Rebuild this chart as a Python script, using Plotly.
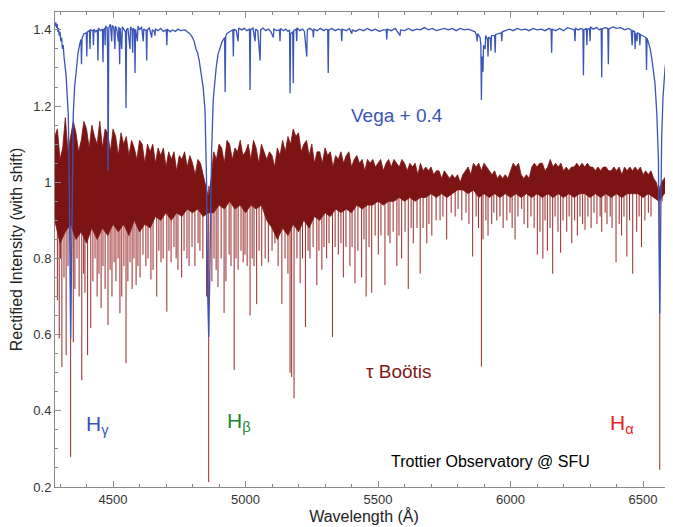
import plotly.graph_objects as go

# ---------------- data ----------------
# tau Bootis: dense band (upper / lower envelope of the blended metal lines)
tau_upper_wl = list(range(4280, 6620, 10))
tau_upper = [
    1.12, 1.14, 1.06, 1.09, 1.17, 1.08, 1.12, 1.16, 1.13, 1.08,
    1.11, 1.16, 1.14, 1.09, 1.15, 1.12, 1.10, 1.16, 1.09, 1.14,
    1.13, 1.08, 1.14, 1.12, 1.07, 1.13, 1.10, 1.12, 1.07, 1.11,
    1.09, 1.06, 1.11, 1.10, 1.05, 1.10, 1.08, 1.10, 1.05, 1.09,
    1.07, 1.09, 1.04, 1.08, 1.06, 1.08, 1.03, 1.07, 1.06, 1.08,
    1.04, 1.07, 1.05, 1.02, 1.06, 1.05, 1.02, 0.99, 0.96, 1.01,
    1.08, 1.06, 1.10, 1.09, 1.05, 1.11, 1.10, 1.06, 1.09, 1.08,
    1.11, 1.07, 1.08, 1.10, 1.06, 1.11, 1.09, 1.05, 1.10, 1.08,
    1.06, 1.08, 1.07, 1.04, 1.09, 1.07, 1.11, 1.08, 1.12, 1.10,
    1.14, 1.12, 1.13, 1.08, 1.10, 1.11, 1.07, 1.10, 1.05, 1.08,
    1.08, 1.05, 1.09, 1.07, 1.08, 1.04, 1.07, 1.06, 1.08, 1.05,
    1.07, 1.08, 1.04, 1.06, 1.07, 1.05, 1.06, 1.03, 1.06, 1.05,
    1.06, 1.04, 1.05, 1.06, 1.03, 1.05, 1.06, 1.04, 1.06, 1.05,
    1.04, 1.06, 1.05, 1.03, 1.05, 1.04, 1.05, 1.02, 1.05, 1.03,
    1.04, 1.03, 1.04, 1.02, 1.03, 1.03, 1.01, 1.03, 1.02, 1.01,
    1.02, 1.01, 1.02, 1.00, 1.02, 1.03, 1.04, 1.02, 1.05, 1.04,
    1.05, 1.03, 1.05, 1.04, 1.03, 1.02, 1.03, 1.01, 1.02, 1.01,
    1.02, 1.01, 1.03, 1.05, 1.04, 1.05, 1.02, 1.01, 1.02, 1.01,
    1.04, 1.05, 1.04, 1.05, 1.05, 1.03, 1.04, 1.06, 1.04, 1.05,
    1.04, 1.05, 1.03, 1.04, 1.03, 1.04, 1.04, 1.05, 1.04, 1.05,
    1.04, 1.05, 1.04, 1.04, 1.03, 1.04, 1.03, 1.04, 1.04, 1.03,
    1.03, 1.04, 1.03, 1.04, 1.02, 1.04, 1.03, 1.04, 1.03, 1.04,
    1.03, 1.04, 1.02, 1.03, 1.02, 1.03, 1.01, 1.00, 0.97, 1.00,
    1.01, 1.02, 1.00, 1.01,
]
tau_lower_wl = list(range(4280, 6601, 20))
tau_lower = [
    0.90, 0.84, 0.87, 0.89, 0.85, 0.87, 0.84, 0.88, 0.85, 0.88,
    0.86, 0.89, 0.87, 0.89, 0.86, 0.90, 0.87, 0.89, 0.88, 0.91,
    0.90, 0.92, 0.90, 0.92, 0.91, 0.93, 0.92, 0.93, 0.91, 0.92,
    0.92, 0.94, 0.93, 0.95, 0.93, 0.94, 0.92, 0.94, 0.93, 0.94,
    0.90, 0.88, 0.85, 0.88, 0.86, 0.89, 0.87, 0.90, 0.88, 0.91,
    0.90, 0.92, 0.91, 0.93, 0.92, 0.93, 0.92, 0.94, 0.93, 0.94,
    0.94, 0.95, 0.94, 0.95, 0.95, 0.96, 0.95, 0.96, 0.95, 0.96,
    0.96, 0.97, 0.96, 0.97, 0.96, 0.97, 0.98, 0.98, 0.97, 0.98,
    0.96, 0.97, 0.96, 0.97, 0.96, 0.97, 0.96, 0.97, 0.96, 0.97,
    0.96, 0.97, 0.96, 0.97, 0.96, 0.97, 0.96, 0.97, 0.96, 0.97,
    0.97, 0.96, 0.97, 0.96, 0.97, 0.96, 0.97, 0.96, 0.97, 0.97,
    0.97, 0.96, 0.97, 0.96, 0.95, 0.97, 0.97,
]
# tau Bootis: individual deep absorption lines (wavelength, minimum)
tau_line_wl = [
    4290, 4297, 4302, 4307, 4315, 4323, 4330, 4340, 4350, 4356,
    4364, 4372, 4382, 4389, 4394, 4404, 4416, 4424, 4432, 4440,
    4447, 4455, 4462, 4470, 4481, 4489, 4496, 4504, 4511, 4519,
    4526, 4533, 4541, 4549, 4556, 4564, 4572, 4579, 4587, 4594,
    4602, 4613, 4624, 4632, 4643, 4651, 4665, 4673, 4681, 4689,
    4703, 4711, 4719, 4730, 4738, 4745, 4759, 4768, 4779, 4787,
    4798, 4809, 4821, 4828, 4839, 4853, 4861, 4873, 4881, 4889,
    4896, 4908, 4919, 4926, 4938, 4945, 4957, 4964, 4972, 4983,
    4991, 4998, 5006, 5017, 5025, 5032, 5042, 5051, 5061, 5074,
    5086, 5100, 5111, 5123, 5137, 5149, 5160, 5168, 5174, 5183,
    5194, 5206, 5215, 5226, 5236, 5243, 5255, 5269, 5277, 5288,
    5296, 5306, 5315, 5328, 5338, 5350, 5360, 5369, 5379, 5394,
    5402, 5413, 5424, 5438, 5447, 5455, 5466, 5476, 5489, 5501,
    5511, 5526, 5538, 5545, 5557, 5571, 5579, 5589, 5602, 5614,
    5625, 5633, 5647, 5659, 5670, 5684, 5692, 5703, 5719, 5734,
    5745, 5759, 5776, 5791, 5802, 5816, 5832, 5843, 5857, 5870,
    5879, 5890, 5896, 5907, 5915, 5929, 5937, 5948, 5960, 5972,
    5986, 5998, 6006, 6017, 6028, 6042, 6051, 6065, 6077, 6089,
    6101, 6111, 6122, 6130, 6139, 6149, 6159, 6168, 6179, 6189,
    6198, 6212, 6221, 6231, 6242, 6252, 6262, 6272, 6281, 6292,
    6304, 6315, 6326, 6338, 6344, 6357, 6364, 6376, 6383, 6398,
    6410, 6419, 6428, 6439, 6449, 6461, 6476, 6485, 6494, 6507,
    6520, 6530, 6563, 6572, 6589, 6602,
]
tau_line_min = [
    0.69, 0.59, 0.80, 0.515, 0.75, 0.546, 0.78, 0.279, 0.58, 0.72,
    0.80, 0.70, 0.48, 0.76, 0.71, 0.546, 0.617, 0.74, 0.80, 0.70,
    0.76, 0.67, 0.78, 0.72, 0.625, 0.77, 0.70, 0.79, 0.74, 0.80,
    0.656, 0.70, 0.78, 0.525, 0.74, 0.79, 0.72, 0.80, 0.73, 0.78,
    0.75, 0.81, 0.78, 0.80, 0.745, 0.77, 0.70, 0.82, 0.79, 0.80,
    0.66, 0.82, 0.79, 0.83, 0.80, 0.77, 0.75, 0.82, 0.80, 0.78,
    0.83, 0.78, 0.84, 0.82, 0.80, 0.70, 0.213, 0.74, 0.80, 0.77,
    0.725, 0.80, 0.657, 0.74, 0.81, 0.78, 0.507, 0.80, 0.77, 0.82,
    0.79, 0.81, 0.78, 0.65, 0.80, 0.78, 0.68, 0.82, 0.78, 0.80,
    0.79, 0.82, 0.84, 0.78, 0.68, 0.80, 0.76, 0.50, 0.489, 0.433,
    0.80, 0.735, 0.80, 0.62, 0.82, 0.80, 0.83, 0.73, 0.82, 0.77,
    0.83, 0.80, 0.84, 0.594, 0.83, 0.81, 0.84, 0.75, 0.83, 0.78,
    0.83, 0.735, 0.82, 0.75, 0.85, 0.70, 0.83, 0.71, 0.86, 0.81,
    0.86, 0.73, 0.86, 0.84, 0.87, 0.78, 0.86, 0.80, 0.87, 0.72,
    0.88, 0.84, 0.88, 0.76, 0.88, 0.84, 0.89, 0.86, 0.90, 0.90,
    0.91, 0.85, 0.92, 0.91, 0.93, 0.90, 0.92, 0.89, 0.805, 0.91,
    0.88, 0.516, 0.85, 0.90, 0.86, 0.89, 0.92, 0.90, 0.91, 0.88,
    0.90, 0.92, 0.88, 0.85, 0.91, 0.93, 0.89, 0.88, 0.91, 0.88,
    0.81, 0.87, 0.80, 0.90, 0.82, 0.88, 0.76, 0.91, 0.87, 0.815,
    0.90, 0.87, 0.91, 0.84, 0.90, 0.86, 0.91, 0.89, 0.875, 0.91,
    0.88, 0.92, 0.89, 0.91, 0.87, 0.92, 0.89, 0.91, 0.88, 0.79,
    0.89, 0.86, 0.91, 0.805, 0.90, 0.76, 0.87, 0.91, 0.83, 0.90,
    0.92, 0.91, 0.245, 0.95, 0.93, 0.95,
]

# Vega (+0.4 shift)
vega_wl = [
    4281, 4284, 4287, 4289, 4292, 4294, 4297, 4300, 4303, 4306,
    4309, 4312, 4315, 4319, 4323, 4326, 4331, 4334, 4336, 4339,
    4340, 4342, 4345, 4348, 4350, 4355, 4360, 4368, 4375, 4379,
    4381, 4383, 4390, 4399, 4401, 4403, 4411, 4413, 4415, 4424,
    4426, 4428, 4435, 4441, 4443, 4445, 4452, 4460, 4462, 4464,
    4469, 4470, 4472, 4478, 4480, 4481, 4482, 4484, 4490, 4495,
    4497, 4503, 4507, 4509, 4514, 4520, 4522, 4525, 4527, 4533,
    4535, 4542, 4547, 4549, 4551, 4556, 4564, 4566, 4572, 4574,
    4576, 4581, 4583, 4585, 4592, 4594, 4600, 4608, 4614, 4616,
    4625, 4627, 4629, 4637, 4646, 4648, 4656, 4658, 4660, 4670,
    4680, 4690, 4701, 4703, 4705, 4715, 4725, 4735, 4745, 4755,
    4765, 4772, 4780, 4790, 4800, 4806, 4813, 4819, 4825, 4830,
    4835, 4840, 4847, 4851, 4853, 4857, 4861, 4865, 4867, 4870,
    4872, 4878, 4884, 4889, 4896, 4904, 4912, 4921, 4923, 4925,
    4929, 4940, 4952, 4954, 4956, 4965, 4972, 4974, 4985, 4995,
    5005, 5015, 5017, 5019, 5028, 5036, 5038, 5046, 5055, 5057,
    5066, 5076, 5086, 5095, 5105, 5107, 5117, 5128, 5130, 5132,
    5142, 5152, 5160, 5166, 5168, 5170, 5178, 5180, 5182, 5191,
    5193, 5195, 5205, 5215, 5222, 5231, 5233, 5243, 5254, 5256,
    5258, 5270, 5282, 5295, 5305, 5310, 5312, 5314, 5325, 5338,
    5350, 5361, 5363, 5365, 5380, 5392, 5401, 5403, 5415, 5430,
    5445, 5460, 5475, 5490, 5505, 5520, 5531, 5533, 5535, 5550,
    5565, 5583, 5585, 5600, 5615, 5630, 5645, 5660, 5675, 5690,
    5705, 5720, 5735, 5750, 5765, 5780, 5795, 5810, 5825, 5840,
    5855, 5866, 5872, 5874, 5876, 5880, 5885, 5888, 5890, 5892,
    5896, 5898, 5904, 5906, 5913, 5915, 5917, 5924, 5926, 5928,
    5940, 5942, 5944, 5955, 5965, 5967, 5969, 5980, 5995, 6010,
    6025, 6040, 6055, 6070, 6085, 6100, 6115, 6130, 6145, 6153,
    6155, 6157, 6170, 6185, 6200, 6215, 6230, 6241, 6243, 6245,
    6255, 6265, 6273, 6275, 6277, 6286, 6288, 6290, 6298, 6300,
    6302, 6312, 6325, 6335, 6342, 6344, 6346, 6355, 6367, 6369,
    6371, 6385, 6400, 6415, 6430, 6445, 6455, 6459, 6461, 6468,
    6470, 6472, 6477, 6479, 6486, 6488, 6490, 6500, 6511, 6513,
    6515, 6519, 6527, 6534, 6545, 6552, 6558, 6560, 6563, 6566,
    6570, 6575, 6583, 6592, 6602, 6613,
]
vega_flux = [
    1.410, 1.420, 1.405, 1.415, 1.395, 1.405, 1.385, 1.395, 1.370, 1.380,
    1.350, 1.360, 1.330, 1.310, 1.280, 1.240, 1.180, 1.050, 0.850, 0.650,
    0.590, 0.700, 0.900, 1.060, 1.180, 1.250, 1.290, 1.340, 1.365, 1.375,
    1.310, 1.378, 1.390, 1.392, 1.330, 1.395, 1.398, 1.350, 1.400, 1.398,
    1.360, 1.402, 1.395, 1.400, 1.320, 1.405, 1.398, 1.402, 1.315, 1.400,
    1.405, 1.360, 1.410, 1.405, 1.300, 1.030, 1.100, 1.405, 1.415, 1.370,
    1.412, 1.405, 1.350, 1.410, 1.402, 1.370, 1.408, 1.310, 1.405, 1.350,
    1.408, 1.400, 1.395, 1.195, 1.400, 1.405, 1.350, 1.408, 1.400, 1.340,
    1.405, 1.400, 1.287, 1.402, 1.370, 1.410, 1.400, 1.408, 1.370, 1.402,
    1.398, 1.320, 1.400, 1.405, 1.380, 1.400, 1.396, 1.385, 1.402, 1.398,
    1.404, 1.396, 1.400, 1.360, 1.402, 1.395, 1.400, 1.396, 1.402, 1.398,
    1.400, 1.400, 1.395, 1.390, 1.380, 1.370, 1.350, 1.340, 1.320, 1.300,
    1.280, 1.250, 1.190, 1.100, 1.000, 0.710, 0.594, 0.750, 0.870, 1.000,
    1.080, 1.216, 1.275, 1.300, 1.335, 1.355, 1.370, 1.380, 1.237, 1.382,
    1.390, 1.395, 1.400, 1.330, 1.402, 1.398, 1.370, 1.405, 1.400, 1.404,
    1.398, 1.402, 1.242, 1.400, 1.405, 1.370, 1.402, 1.398, 1.320, 1.400,
    1.405, 1.398, 1.402, 1.396, 1.380, 1.402, 1.398, 1.400, 1.370, 1.404,
    1.398, 1.402, 1.396, 1.400, 1.234, 1.390, 1.395, 1.260, 1.398, 1.402,
    1.370, 1.405, 1.398, 1.402, 1.396, 1.330, 1.400, 1.404, 1.398, 1.380,
    1.402, 1.398, 1.404, 1.398, 1.402, 1.400, 1.287, 1.400, 1.404, 1.398,
    1.402, 1.400, 1.370, 1.402, 1.398, 1.404, 1.390, 1.400, 1.396, 1.402,
    1.398, 1.404, 1.398, 1.402, 1.396, 1.400, 1.400, 1.375, 1.402, 1.398,
    1.404, 1.385, 1.400, 1.398, 1.404, 1.398, 1.402, 1.400, 1.406, 1.400,
    1.404, 1.398, 1.402, 1.404, 1.400, 1.404, 1.398, 1.404, 1.400, 1.402,
    1.398, 1.395, 1.385, 1.370, 1.390, 1.385, 1.380, 1.360, 1.216, 1.330,
    1.290, 1.360, 1.350, 1.385, 1.375, 1.330, 1.380, 1.378, 1.345, 1.385,
    1.385, 1.340, 1.388, 1.390, 1.392, 1.370, 1.395, 1.398, 1.402, 1.398,
    1.404, 1.400, 1.402, 1.398, 1.404, 1.400, 1.402, 1.398, 1.404, 1.400,
    1.340, 1.402, 1.398, 1.404, 1.398, 1.406, 1.402, 1.400, 1.370, 1.404,
    1.400, 1.404, 1.402, 1.281, 1.400, 1.404, 1.360, 1.402, 1.404, 1.370,
    1.408, 1.402, 1.406, 1.400, 1.404, 1.275, 1.402, 1.406, 1.404, 1.310,
    1.402, 1.408, 1.404, 1.406, 1.400, 1.404, 1.400, 1.360, 1.398, 1.396,
    1.350, 1.392, 1.370, 1.392, 1.390, 1.360, 1.388, 1.384, 1.380, 1.295,
    1.378, 1.370, 1.350, 1.320, 1.260, 1.180, 1.060, 0.850, 0.655, 0.850,
    1.110, 1.220, 1.300, 1.350, 1.380, 1.400,
]

x_ticks = [4500, 5000, 5500, 6000, 6500]
y_ticks = [0.2, 0.4, 0.6, 0.8, 1.0, 1.2, 1.4]
y_tick_text = ["0.2", "0.4", "0.6", "0.8", "1", "1.2", "1.4"]

assert len(tau_upper_wl) == len(tau_upper), (len(tau_upper_wl), len(tau_upper))
assert len(tau_lower_wl) == len(tau_lower), (len(tau_lower_wl), len(tau_lower))
assert len(tau_line_wl) == len(tau_line_min), (len(tau_line_wl), len(tau_line_min))
assert len(vega_wl) == len(vega_flux), (len(vega_wl), len(vega_flux))

# ---------------- figure ----------------
RED = "rgb(125,20,20)"
RED_LINE = "rgb(155,40,40)"
BLUE = "rgb(58,84,184)"

fig = go.Figure()

# deep lines of tau Boo as vertical strokes (drawn under the dense band)
sx, sy = [], []
for w, m in zip(tau_line_wl, tau_line_min):
    sx += [w, w, None]
    sy += [0.99, m, None]
fig.add_trace(go.Scatter(x=sx, y=sy, mode="lines",
                         line=dict(color=RED_LINE, width=1.0),
                         hoverinfo="skip", showlegend=False))

# dense band of tau Boo
band_x = tau_upper_wl + tau_lower_wl[::-1]
band_y = tau_upper + tau_lower[::-1]
fig.add_trace(go.Scatter(x=band_x, y=band_y, mode="lines", fill="toself",
                         fillcolor=RED, line=dict(color=RED, width=0.8),
                         hoverinfo="skip", showlegend=False))

# Vega
fig.add_trace(go.Scatter(x=vega_wl, y=vega_flux, mode="lines",
                         line=dict(color=BLUE, width=1.3),
                         showlegend=False))

FONT = "Liberation Sans, Arial, Helvetica, sans-serif"
annos = [
    dict(x=5572, y=1.174, text="Vega + 0.4", font=dict(size=19, color=BLUE)),
    dict(x=5579, y=0.502, text="τ Boötis", font=dict(size=19, color="rgb(128,25,25)")),
    dict(x=4440, y=0.363, text="H<sub>γ</sub>", font=dict(size=21, color=BLUE)),
    dict(x=4975, y=0.370, text="H<sub>β</sub>", font=dict(size=21, color="rgb(30,135,55)")),
    dict(x=6421, y=0.365, text="H<sub>α</sub>", font=dict(size=21, color="rgb(235,30,30)")),
    dict(x=5923, y=0.268, text="Trottier Observatory @ SFU", font=dict(size=16, color="black")),
]
for a in annos:
    fig.add_annotation(xref="x", yref="y", showarrow=False,
                       xanchor="center", yanchor="middle", **a)

axis_common = dict(showline=True, mirror="ticks", linecolor="#8a8a8a", linewidth=1,
                   ticks="inside", tickcolor="#8a8a8a", ticklen=6, tickwidth=1,
                   showgrid=False, zeroline=False,
                   tickfont=dict(size=13, color="#333333", family=FONT))

fig.update_xaxes(range=[4281, 6613], tickvals=x_ticks,
                 minor=dict(dtick=100, tick0=4500, ticks="inside", ticklen=3,
                            tickcolor="#8a8a8a", showgrid=False),
                 title=dict(text="Wavelength (Å)", font=dict(size=16, color="#222", family=FONT),
                            standoff=4),
                 **axis_common)
fig.update_yaxes(range=[0.2, 1.447], tickvals=y_ticks, ticktext=y_tick_text,
                 minor=dict(dtick=0.05, tick0=0.2, ticks="inside", ticklen=3,
                            tickcolor="#8a8a8a", showgrid=False),
                 title=dict(text="Rectified Intensity (with shift)",
                            font=dict(size=16, color="#222", family=FONT), standoff=6),
                 **axis_common)

# page body adds an 8px margin, so the figure is sized/offset to compensate
fig.update_layout(width=665, height=519,
                  margin=dict(l=47, r=0, t=4, b=40),
                  plot_bgcolor="white", paper_bgcolor="white",
                  font=dict(family=FONT))

fig.write_html("out.html")
